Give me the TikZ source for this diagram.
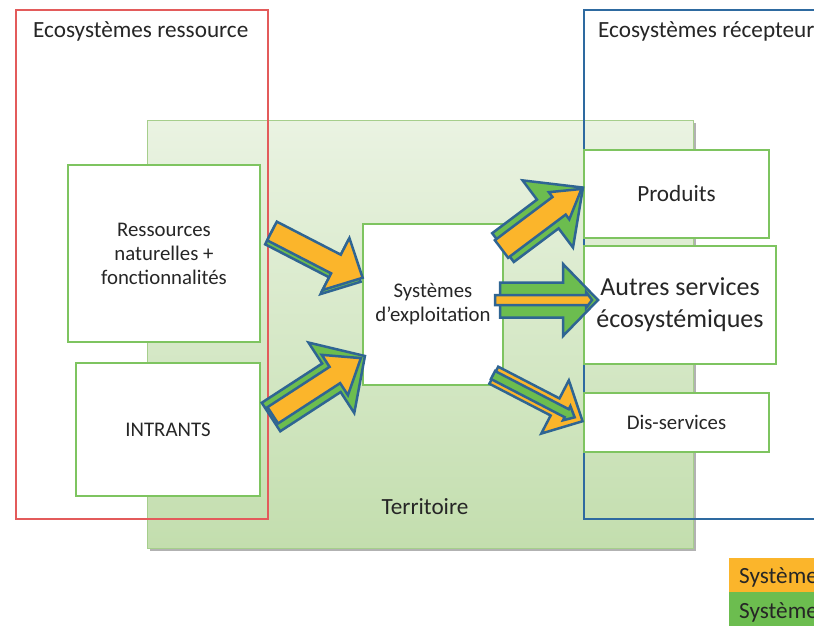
\documentclass[tikz,border=0pt]{standalone}
\usepackage{fontspec}
\setmainfont{Carlito}
\definecolor{redb}{HTML}{E35B5B}
\definecolor{blueb}{HTML}{2E6AA0}
\definecolor{greenb}{HTML}{7EC460}
\definecolor{terrtop}{HTML}{EAF3E2}
\definecolor{terrbot}{HTML}{C3DEAE}
\definecolor{terrline}{HTML}{A6CE8C}
\definecolor{arrline}{HTML}{2F6593}
\definecolor{orangef}{HTML}{FBB52B}
\definecolor{greenf}{HTML}{6CBD4F}
\definecolor{txt}{HTML}{262626}
\newcommand{\myblockarrow}[7]{%
  \begin{scope}[shift={(#1)},rotate=#2]
    \draw[#7] (0,-#4) -- ({#3-#6},-#4) -- ({#3-#6},-#5) -- (#3,0) -- ({#3-#6},#5) -- ({#3-#6},#4) -- (0,#4) -- cycle;
  \end{scope}}
\tikzset{
  box/.style={draw=greenb, line width=2pt, fill=white, inner sep=0pt, align=center, text=txt},
  frame/.style={line width=2pt, inner sep=0pt},
  lbl/.style={text=txt, inner sep=0pt, align=center},
  oarr/.style={draw=arrline, line width=2.5pt, fill=orangef, line join=miter},
  garr/.style={draw=arrline, line width=2.5pt, fill=greenf, line join=miter},
  sz20/.style={font=\fontsize{20.8}{24}\selectfont},
  sz22/.style={font=\fontsize{23.2}{27}\selectfont},
  sz26/.style={font=\fontsize{26}{32}\selectfont}
}
\begin{document}
\begin{tikzpicture}[x=1pt,y=-1pt]
\useasboundingbox (0,0) rectangle (814,626);
\clip (0,0) rectangle (814,626);
\fill[white] (0,0) rectangle (814,626);
% territory
\fill[black!30] (150,123) rectangle (696,551);
\shade[top color=terrtop, bottom color=terrbot, draw=terrline, line width=1pt] (147,120) rectangle (693,548);
\node[lbl, sz22] (terr) at (425,507) {Territoire};
% resource / receiver frames
\node[frame, draw=redb, minimum width=252, minimum height=509] (red) at (142,264.5) {};
\node[frame, draw=blueb, minimum width=260, minimum height=509] (blue) at (714,264.5) {};
\node[lbl, sz22, anchor=west] (redt) at (33,31) {Ecosystèmes ressource};
\node[lbl, sz22, anchor=west] (bluet) at (598,31) {Ecosystèmes récepteurs};
% boxes
\node[box, sz20, minimum width=192, minimum height=177] (res) at (164,253.5) {Ressources\\naturelles +\\fonctionnalités};
\node[box, sz20, minimum width=184, minimum height=133] (intr) at (168,429.5) {INTRANTS};
\node[box, sz20, minimum width=140, minimum height=161] (sys) at (433,304.5) {Systèmes\\d’exploitation};
\node[box, sz22, minimum width=185, minimum height=88] (prod) at (676.5,194) {Produits};
\node[box, sz26, minimum width=192, minimum height=118] (autr) at (680,305) {Autres services\\écosystémiques};
\node[box, sz20, minimum width=185, minimum height=59] (dis) at (676.5,422.5) {Dis-services};
% arrows
\myblockarrow{270,235}{-27.3}{102}{10.5}{29.3}{30}{garr}
\myblockarrow{272,231}{-27.3}{102}{10.5}{29.3}{30}{oarr}
\myblockarrow{271,417}{33}{112}{17}{42}{40}{garr}
\myblockarrow{272.8,415.3}{33}{105}{9.7}{24}{31}{oarr}
\myblockarrow{503,247.6}{36.9}{100}{18}{42}{44}{garr}
\myblockarrow{501.5,249}{36.9}{100}{11}{17}{28}{oarr}
\myblockarrow{500,300}{0}{98}{17.5}{36}{35}{garr}
\myblockarrow{495,300}{0}{97}{5}{8}{6}{oarr}
\myblockarrow{493.8,375.2}{-27.4}{100}{9.6}{30}{31}{oarr}
\myblockarrow{493,375}{-27.4}{92}{4.5}{8}{9}{garr}
% legend
\node[fill=orangef, minimum width=101, minimum height=34, inner sep=0pt] (leg1) at (779.5,575) {};
\node[fill=greenf, minimum width=101, minimum height=34, inner sep=0pt] (leg2) at (779.5,609) {};
\node[lbl, sz22, anchor=west] (leg1t) at (739,577) {Systèmes};
\node[lbl, sz22, anchor=west] (leg2t) at (739,612) {Systèmes};
\end{tikzpicture}
\end{document}
